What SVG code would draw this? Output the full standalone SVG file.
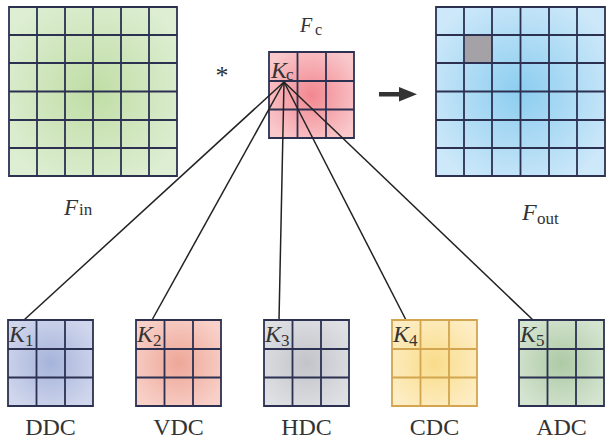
<svg xmlns="http://www.w3.org/2000/svg" width="606" height="441" viewBox="0 0 606 441">
<defs>
<radialGradient id="gGreen" cx="0.5" cy="0.5" r="0.6"><stop offset="0" stop-color="#c0dda5"/><stop offset="1" stop-color="#ddeed2"/></radialGradient>
<radialGradient id="gBlue" cx="0.5" cy="0.5" r="0.6"><stop offset="0" stop-color="#8ccdf0"/><stop offset="1" stop-color="#cde8f9"/></radialGradient>
<radialGradient id="gPink" cx="0.5" cy="0.5" r="0.6"><stop offset="0" stop-color="#f28790"/><stop offset="1" stop-color="#f9c8cb"/></radialGradient>
<radialGradient id="gDDC" cx="0.5" cy="0.5" r="0.6"><stop offset="0" stop-color="#a6b4db"/><stop offset="1" stop-color="#d0d6ec"/></radialGradient>
<radialGradient id="gVDC" cx="0.5" cy="0.5" r="0.6"><stop offset="0" stop-color="#eea798"/><stop offset="1" stop-color="#f8d0c8"/></radialGradient>
<radialGradient id="gHDC" cx="0.5" cy="0.5" r="0.6"><stop offset="0" stop-color="#c3c4c9"/><stop offset="1" stop-color="#dfe0e4"/></radialGradient>
<radialGradient id="gCDC" cx="0.5" cy="0.5" r="0.6"><stop offset="0" stop-color="#f9dc8a"/><stop offset="1" stop-color="#fdedc4"/></radialGradient>
<radialGradient id="gADC" cx="0.5" cy="0.5" r="0.6"><stop offset="0" stop-color="#aecaa6"/><stop offset="1" stop-color="#d4e4d0"/></radialGradient>
</defs>
<style>
.grid{fill:none;stroke:#2c3152;stroke-width:1.8}
.gridy{fill:none;stroke:#d2a54e;stroke-width:1.8}
.conn{fill:none;stroke:#222;stroke-width:1.5}
text{font-family:"Liberation Serif","Times New Roman",serif;fill:#333}
.it{font-style:italic}
</style>

<g id="Fin">
<rect x="9" y="7" width="168" height="169" fill="url(#gGreen)"/>
<path class="grid" d="M9 7H177V176H9Z M37 7V176 M65 7V176 M93 7V176 M121 7V176 M149 7V176 M9 35H177 M9 63H177 M9 91.5H177 M9 120H177 M9 148H177"/>
<text class="it" x="64" y="215" font-size="23">F</text><text x="79" y="215" font-size="17">in</text>
</g>

<g id="Fout">
<rect x="436" y="7" width="169" height="169" fill="url(#gBlue)"/>
<rect x="465" y="36" width="27" height="27" fill="#a4a2a6"/>
<path class="grid" d="M436 7H605V176H436Z M464 7V176 M492 7V176 M520.5 7V176 M549 7V176 M577 7V176 M436 35H605 M436 63H605 M436 91.5H605 M436 120H605 M436 148H605"/>
<text class="it" x="522" y="220" font-size="24">F</text><text x="537" y="224" font-size="17">out</text>
</g>

<g id="Fc">
<rect x="269" y="52" width="85" height="86" fill="url(#gPink)"/>
<path class="grid" d="M269 52H354V138H269Z M297.5 52V138 M326 52V138 M269 81H354 M269 109.5H354"/>
<text class="it" x="271" y="78" font-size="24">K</text><text x="286" y="80" font-size="17">c</text>
<text class="it" x="300" y="32" font-size="20">F</text><text x="315" y="35" font-size="16">c</text>
</g>

<text id="star" x="222" y="84" font-size="26" text-anchor="middle">*</text>

<g id="arrow">
<rect x="379" y="92" width="22" height="4.5" fill="#333"/>
<polygon points="399,87 417,94.3 399,101.5" fill="#333"/>
</g>

<g id="connectors">
<line class="conn" x1="284" y1="82" x2="24" y2="320"/>
<line class="conn" x1="284" y1="82" x2="152" y2="320"/>
<line class="conn" x1="284" y1="82" x2="279" y2="320"/>
<line class="conn" x1="284" y1="82" x2="406" y2="320"/>
<line class="conn" x1="284" y1="82" x2="533" y2="320"/>
</g>

<g id="DDC">
<rect x="8" y="320" width="85" height="86" fill="url(#gDDC)"/>
<path class="grid" d="M8 320H93V406H8Z M36.5 320V406 M65 320V406 M8 349H93 M8 377.5H93"/>
<text class="it" x="9" y="342" font-size="24">K</text><text x="25" y="346" font-size="17">1</text>
<text x="50.5" y="435" font-size="24" text-anchor="middle">DDC</text>
</g>

<g id="VDC">
<rect x="136" y="320" width="85" height="86" fill="url(#gVDC)"/>
<path class="grid" d="M136 320H221V406H136Z M164.5 320V406 M193 320V406 M136 349H221 M136 377.5H221"/>
<text class="it" x="137" y="342" font-size="24">K</text><text x="153" y="346" font-size="17">2</text>
<text x="178.5" y="435" font-size="24" text-anchor="middle">VDC</text>
</g>

<g id="HDC">
<rect x="264" y="320" width="85" height="86" fill="url(#gHDC)"/>
<path class="grid" d="M264 320H349V406H264Z M292.5 320V406 M321 320V406 M264 349H349 M264 377.5H349"/>
<text class="it" x="265" y="342" font-size="24">K</text><text x="281" y="346" font-size="17">3</text>
<text x="306.5" y="435" font-size="24" text-anchor="middle">HDC</text>
</g>

<g id="CDC">
<rect x="392" y="320" width="85" height="86" fill="url(#gCDC)"/>
<path class="gridy" d="M392 320H477V406H392Z M420.5 320V406 M449 320V406 M392 349H477 M392 377.5H477"/>
<text class="it" x="393" y="342" font-size="24">K</text><text x="409" y="346" font-size="17">4</text>
<text x="434.5" y="435" font-size="24" text-anchor="middle">CDC</text>
</g>

<g id="ADC">
<rect x="519" y="320" width="85" height="86" fill="url(#gADC)"/>
<path class="grid" d="M519 320H604V406H519Z M547.5 320V406 M576 320V406 M519 349H604 M519 377.5H604"/>
<text class="it" x="520" y="342" font-size="24">K</text><text x="536" y="346" font-size="17">5</text>
<text x="561.5" y="435" font-size="24" text-anchor="middle">ADC</text>
</g>
</svg>
